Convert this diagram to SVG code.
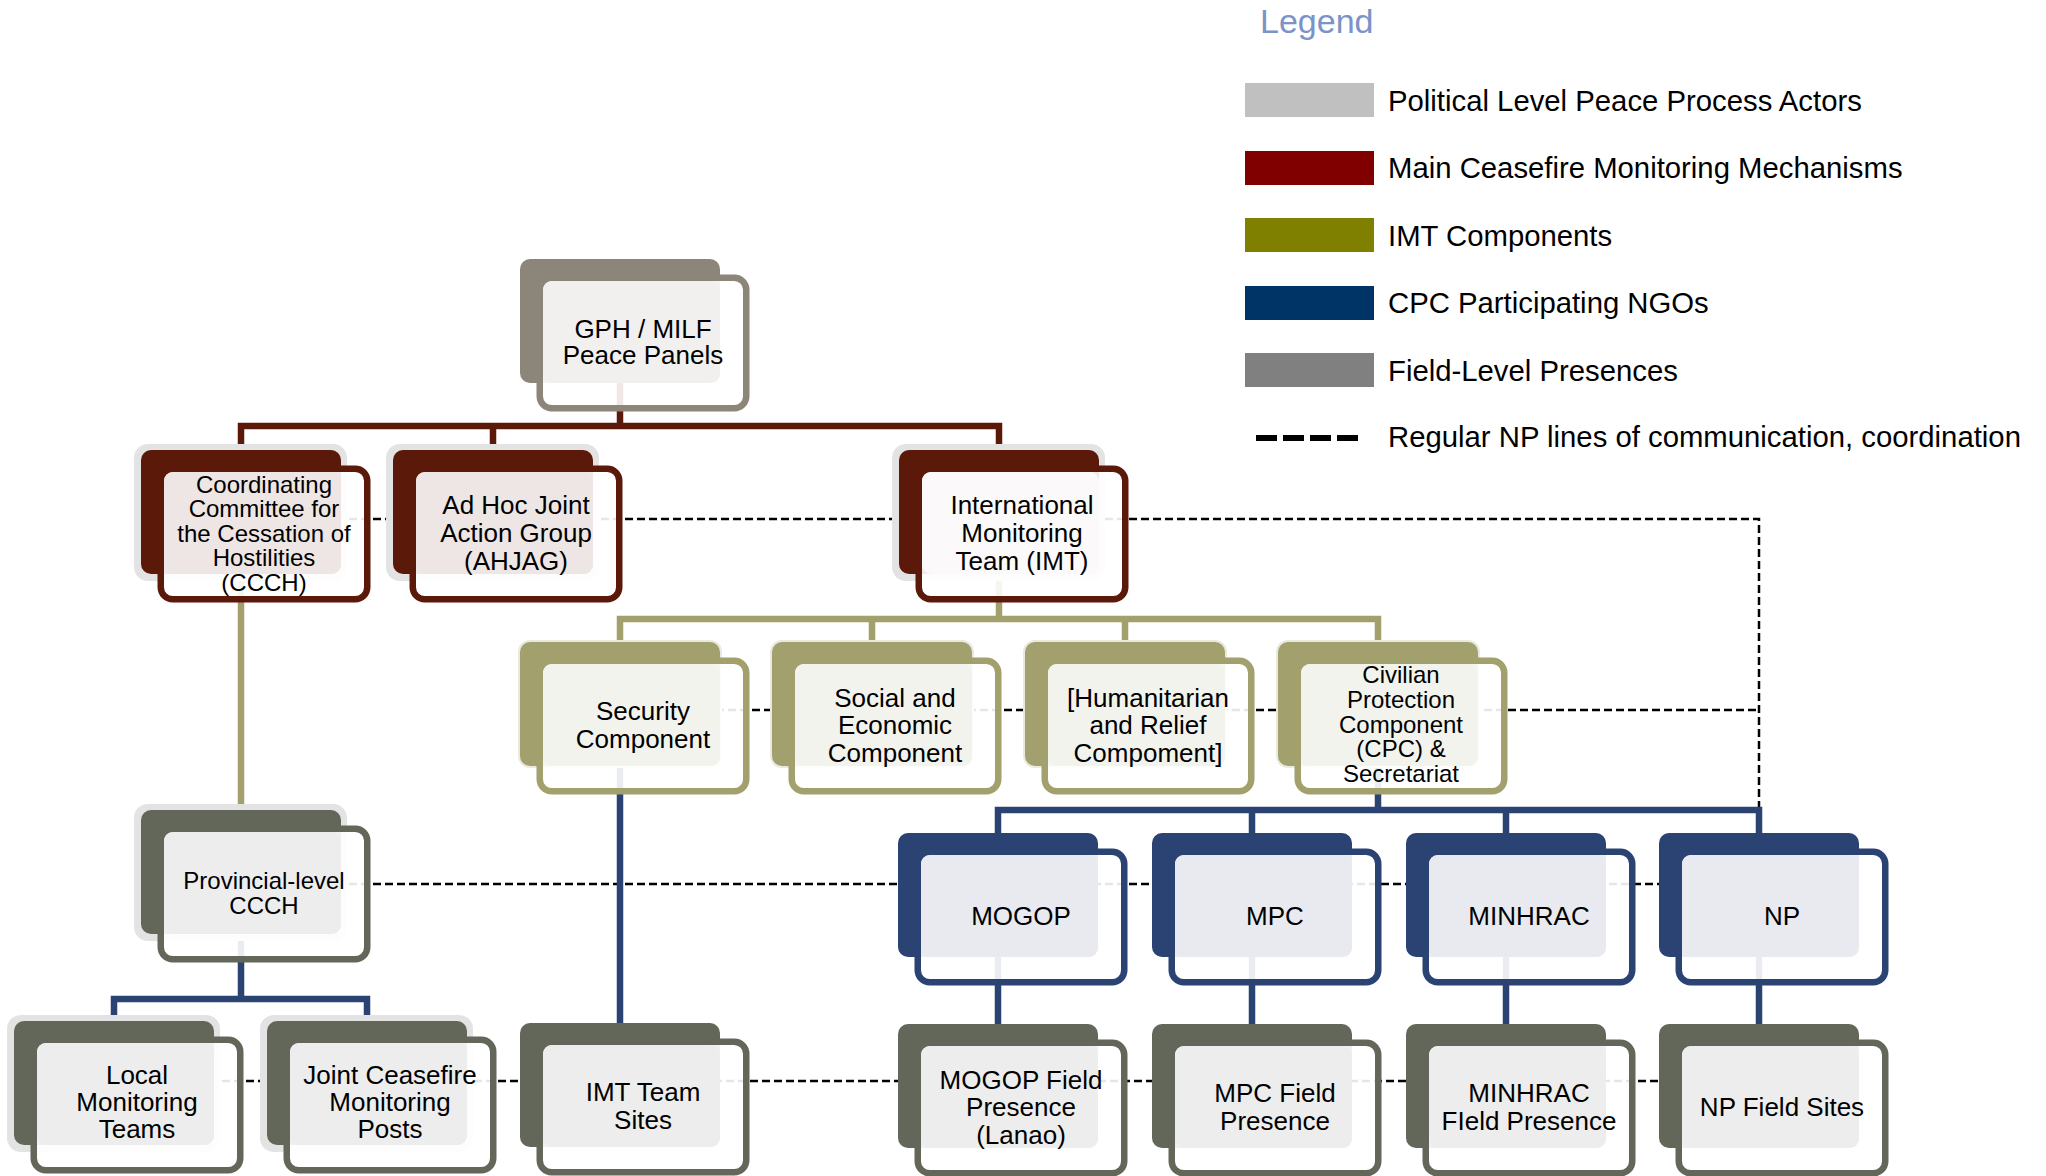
<svg xmlns="http://www.w3.org/2000/svg" width="2046" height="1176" viewBox="0 0 2046 1176">
<style>
text{font-family:"Liberation Sans",Arial,sans-serif;fill:#000;text-anchor:middle}
.lt{font-size:29.3px;text-anchor:start}
.f26{font-size:26px}
.f24{font-size:24px}
.halo{fill:#E3E3E3}
.halo2{fill:#E9E9E2}
.back{}
.front{fill:#fff;fill-opacity:.9;stroke-width:6.5}
.taupe .back{fill:#8C857A}.taupe .front{stroke:#8C857A}.taupe .lite{fill:#F1F0EE}
.maroon .back{fill:#5B190A}.maroon .front{stroke:#5B190A}.maroon .lite{fill:#EEE6E4}
.maroon .lite.w{fill:#FBF9F9}
.olive .back{fill:#A2A06C}.olive .front{stroke:#A2A06C}.olive .lite{fill:#F3F3EE}
.blue .back{fill:#2A4373}.blue .front{stroke:#2A4373}.blue .lite{fill:#E9EAF0}
.gray .back{fill:#626759}.gray .front{stroke:#626759}.gray .lite{fill:#EDEDED}
.dash{fill:none;stroke:#000;stroke-width:2.5;stroke-dasharray:8 4}
.c{fill:none;stroke-width:6.5;stroke-linejoin:miter;stroke-linecap:butt}
.cm{stroke:#5B190A}.co{stroke:#A2A06C}.cb{stroke:#2A4373}
</style>
<rect width="2046" height="1176" fill="#fff"/>

<g id="legend">
<text x="1260" y="33" style="font-size:34px;text-anchor:start;fill:#7B93C7">Legend</text>
<rect x="1245" y="83" width="129" height="34" fill="#C0C0C0"/>
<rect x="1245" y="151" width="129" height="34" fill="#800000"/>
<rect x="1245" y="218" width="129" height="34" fill="#808000"/>
<rect x="1245" y="286" width="129" height="34" fill="#003366"/>
<rect x="1245" y="353" width="129" height="34" fill="#808080"/>
<line x1="1256" y1="438" x2="1358" y2="438" stroke="#000" stroke-width="6" stroke-dasharray="21 6"/>
<text class="lt" x="1388" y="111">Political Level Peace Process Actors</text>
<text class="lt" x="1388" y="178">Main Ceasefire Monitoring Mechanisms</text>
<text class="lt" x="1388" y="246">IMT Components</text>
<text class="lt" x="1388" y="313">CPC Participating NGOs</text>
<text class="lt" x="1388" y="381">Field-Level Presences</text>
<text class="lt" x="1388" y="447">Regular NP lines of communication, coordination</text>
</g>

<g id="connectors">
<path class="dash" d="M241 519H1759V810"/>
<path class="dash" d="M620 710H1759"/>
<path class="dash" d="M241 884H1759"/>
<path class="dash" d="M114 1081H1759"/>
<path class="c cm" d="M620 383V426M241 450V426H999V450M493 426V450"/>
<path class="c co" d="M999 575V619M620 642V619H1378V642M872 619V642M1125 619V642"/>
<path class="c co" d="M241 575V810"/>
<path class="c cb" d="M1378 766V810M998 833V810H1759V833M1252 810V833M1506 810V833"/>
<path class="c cb" d="M241 934V999M114 1021V999H367V1021"/>
<path class="c cb" d="M620 766V1023"/>
<path class="c cb" d="M998 957V1024M1252 957V1024M1506 957V1024M1759 957V1024"/>
</g>

<g id="n-gph" class="taupe">
<rect class="back" x="520" y="259" width="200" height="124" rx="10"/>
<rect class="front" x="539.75" y="277.75" width="206.5" height="130.5" rx="12"/>
<rect class="lite" x="543" y="281" width="177" height="102" rx="9"/>
<text class="f26"><tspan x="643" y="338.3">GPH / MILF</tspan><tspan x="643" y="364.3">Peace Panels</tspan></text>
</g>

<g id="n-ccch" class="maroon">
<rect class="halo" x="134" y="444" width="213" height="137" rx="14"/>
<rect class="back" x="141" y="450" width="200" height="124" rx="10"/>
<rect class="front" x="160.75" y="468.75" width="206.5" height="130.5" rx="12"/>
<rect class="lite" x="164" y="472" width="177" height="102" rx="9"/>
<text class="f24"><tspan x="264" y="492.6">Coordinating</tspan><tspan x="264" y="517.1">Committee for</tspan><tspan x="264" y="541.6">the Cessation of</tspan><tspan x="264" y="566.1">Hostilities</tspan><tspan x="264" y="590.6">(CCCH)</tspan></text>
</g>

<g id="n-ahjag" class="maroon">
<rect class="halo" x="386" y="444" width="213" height="137" rx="14"/>
<rect class="back" x="393" y="450" width="200" height="124" rx="10"/>
<rect class="front" x="412.75" y="468.75" width="206.5" height="130.5" rx="12"/>
<rect class="lite" x="416" y="472" width="177" height="102" rx="9"/>
<text class="f26"><tspan x="516" y="514.3">Ad Hoc Joint</tspan><tspan x="516" y="542.3">Action Group</tspan><tspan x="516" y="570.3">(AHJAG)</tspan></text>
</g>

<g id="n-imt" class="maroon">
<rect class="halo" x="892" y="444" width="213" height="137" rx="14"/>
<rect class="back" x="899" y="450" width="200" height="124" rx="10"/>
<rect class="front" x="918.75" y="468.75" width="206.5" height="130.5" rx="12"/>
<rect class="lite w" x="922" y="472" width="177" height="102" rx="9"/>
<text class="f26"><tspan x="1022" y="514.3">International</tspan><tspan x="1022" y="542.3">Monitoring</tspan><tspan x="1022" y="570.3">Team (IMT)</tspan></text>
</g>

<g id="n-security" class="olive">
<rect class="halo2" x="518" y="640" width="204" height="128" rx="12"/>
<rect class="back" x="520" y="642" width="200" height="124" rx="10"/>
<rect class="front" x="539.75" y="660.75" width="206.5" height="130.5" rx="12"/>
<rect class="lite" x="543" y="664" width="177" height="102" rx="9"/>
<text class="f26"><tspan x="643" y="720.3">Security</tspan><tspan x="643" y="748.3">Component</tspan></text>
</g>

<g id="n-social" class="olive">
<rect class="halo2" x="770" y="640" width="204" height="128" rx="12"/>
<rect class="back" x="772" y="642" width="200" height="124" rx="10"/>
<rect class="front" x="791.75" y="660.75" width="206.5" height="130.5" rx="12"/>
<rect class="lite" x="795" y="664" width="177" height="102" rx="9"/>
<text class="f26"><tspan x="895" y="706.8">Social and</tspan><tspan x="895" y="734.3">Economic</tspan><tspan x="895" y="761.8">Component</tspan></text>
</g>

<g id="n-humanitarian" class="olive">
<rect class="halo2" x="1023" y="640" width="204" height="128" rx="12"/>
<rect class="back" x="1025" y="642" width="200" height="124" rx="10"/>
<rect class="front" x="1044.75" y="660.75" width="206.5" height="130.5" rx="12"/>
<rect class="lite" x="1048" y="664" width="177" height="102" rx="9"/>
<text class="f26"><tspan x="1148" y="706.8">[Humanitarian</tspan><tspan x="1148" y="734.3">and Relief</tspan><tspan x="1148" y="761.8">Compoment]</tspan></text>
</g>

<g id="n-cpc" class="olive">
<rect class="halo2" x="1276" y="640" width="204" height="128" rx="12"/>
<rect class="back" x="1278" y="642" width="200" height="124" rx="10"/>
<rect class="front" x="1297.75" y="660.75" width="206.5" height="130.5" rx="12"/>
<rect class="lite" x="1301" y="664" width="177" height="102" rx="9"/>
<text class="f24"><tspan x="1401" y="683.2">Civilian</tspan><tspan x="1401" y="707.9">Protection</tspan><tspan x="1401" y="732.6">Component</tspan><tspan x="1401" y="757.3">(CPC) &amp;</tspan><tspan x="1401" y="782">Secretariat</tspan></text>
</g>

<g id="n-provincial" class="gray">
<rect class="halo" x="134" y="804" width="213" height="137" rx="14"/>
<rect class="back" x="141" y="810" width="200" height="124" rx="10"/>
<rect class="front" x="160.75" y="828.75" width="206.5" height="130.5" rx="12"/>
<rect class="lite" x="164" y="832" width="177" height="102" rx="9"/>
<text class="f24"><tspan x="264" y="889.3">Provincial-level</tspan><tspan x="264" y="913.8">CCCH</tspan></text>
</g>

<g id="n-mogop" class="blue">
<rect class="back" x="898" y="833" width="200" height="124" rx="10"/>
<rect class="front" x="917.75" y="851.75" width="206.5" height="130.5" rx="12"/>
<rect class="lite" x="921" y="855" width="177" height="102" rx="9"/>
<text class="f26" x="1021" y="925.3">MOGOP</text>
</g>

<g id="n-mpc" class="blue">
<rect class="back" x="1152" y="833" width="200" height="124" rx="10"/>
<rect class="front" x="1171.75" y="851.75" width="206.5" height="130.5" rx="12"/>
<rect class="lite" x="1175" y="855" width="177" height="102" rx="9"/>
<text class="f26" x="1275" y="925.3">MPC</text>
</g>

<g id="n-minhrac" class="blue">
<rect class="back" x="1406" y="833" width="200" height="124" rx="10"/>
<rect class="front" x="1425.75" y="851.75" width="206.5" height="130.5" rx="12"/>
<rect class="lite" x="1429" y="855" width="177" height="102" rx="9"/>
<text class="f26" x="1529" y="925.3">MINHRAC</text>
</g>

<g id="n-np" class="blue">
<rect class="back" x="1659" y="833" width="200" height="124" rx="10"/>
<rect class="front" x="1678.75" y="851.75" width="206.5" height="130.5" rx="12"/>
<rect class="lite" x="1682" y="855" width="177" height="102" rx="9"/>
<text class="f26" x="1782" y="925.3">NP</text>
</g>

<g id="n-local" class="gray">
<rect class="halo" x="7" y="1015" width="213" height="137" rx="14"/>
<rect class="back" x="14" y="1021" width="200" height="124" rx="10"/>
<rect class="front" x="33.75" y="1039.75" width="206.5" height="130.5" rx="12"/>
<rect class="lite" x="37" y="1043" width="177" height="102" rx="9"/>
<text class="f26"><tspan x="137" y="1084.3">Local</tspan><tspan x="137" y="1111.3">Monitoring</tspan><tspan x="137" y="1138.3">Teams</tspan></text>
</g>

<g id="n-joint" class="gray">
<rect class="halo" x="260" y="1015" width="213" height="137" rx="14"/>
<rect class="back" x="267" y="1021" width="200" height="124" rx="10"/>
<rect class="front" x="286.75" y="1039.75" width="206.5" height="130.5" rx="12"/>
<rect class="lite" x="290" y="1043" width="177" height="102" rx="9"/>
<text class="f26"><tspan x="390" y="1084.3">Joint Ceasefire</tspan><tspan x="390" y="1111.3">Monitoring</tspan><tspan x="390" y="1138.3">Posts</tspan></text>
</g>

<g id="n-imtteam" class="gray">
<rect class="back" x="520" y="1023" width="200" height="124" rx="10"/>
<rect class="front" x="539.75" y="1041.75" width="206.5" height="130.5" rx="12"/>
<rect class="lite" x="543" y="1045" width="177" height="102" rx="9"/>
<text class="f26"><tspan x="643" y="1101.3">IMT Team</tspan><tspan x="643" y="1129.3">Sites</tspan></text>
</g>

<g id="n-mogopfield" class="gray">
<rect class="back" x="898" y="1024" width="200" height="124" rx="10"/>
<rect class="front" x="917.75" y="1042.75" width="206.5" height="130.5" rx="12"/>
<rect class="lite" x="921" y="1046" width="177" height="102" rx="9"/>
<text class="f26"><tspan x="1021" y="1088.8">MOGOP Field</tspan><tspan x="1021" y="1116.3">Presence</tspan><tspan x="1021" y="1143.8">(Lanao)</tspan></text>
</g>

<g id="n-mpcfield" class="gray">
<rect class="back" x="1152" y="1024" width="200" height="124" rx="10"/>
<rect class="front" x="1171.75" y="1042.75" width="206.5" height="130.5" rx="12"/>
<rect class="lite" x="1175" y="1046" width="177" height="102" rx="9"/>
<text class="f26"><tspan x="1275" y="1102.3">MPC Field</tspan><tspan x="1275" y="1130.3">Presence</tspan></text>
</g>

<g id="n-minhracfield" class="gray">
<rect class="back" x="1406" y="1024" width="200" height="124" rx="10"/>
<rect class="front" x="1425.75" y="1042.75" width="206.5" height="130.5" rx="12"/>
<rect class="lite" x="1429" y="1046" width="177" height="102" rx="9"/>
<text class="f26"><tspan x="1529" y="1102.3">MINHRAC</tspan><tspan x="1529" y="1130.3">FIeld Presence</tspan></text>
</g>

<g id="n-npfield" class="gray">
<rect class="back" x="1659" y="1024" width="200" height="124" rx="10"/>
<rect class="front" x="1678.75" y="1042.75" width="206.5" height="130.5" rx="12"/>
<rect class="lite" x="1682" y="1046" width="177" height="102" rx="9"/>
<text class="f26" x="1782" y="1116.3">NP Field Sites</text>
</g>
</svg>
